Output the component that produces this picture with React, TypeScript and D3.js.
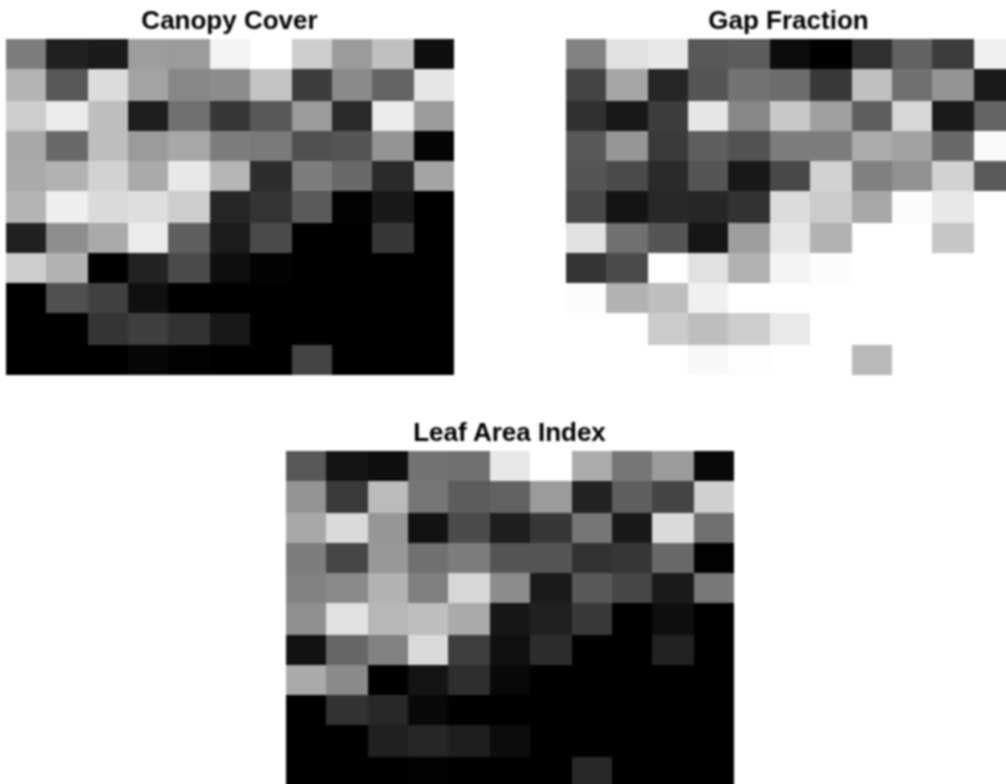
import React from "react";
import * as d3 from "d3";

const WIDTH = 1006;
const HEIGHT = 784;
const columns = d3.range(11);
const rows = d3.range(11);

const canopyCover = [
  [125, 33, 27, 157, 155, 243, 255, 205, 155, 192, 15],
  [180, 88, 220, 163, 135, 140, 195, 60, 138, 100, 230],
  [205, 235, 190, 30, 112, 55, 88, 155, 42, 235, 155],
  [168, 105, 190, 155, 168, 125, 122, 80, 85, 148, 5],
  [170, 178, 210, 170, 232, 182, 45, 125, 105, 42, 163],
  [180, 238, 218, 222, 205, 38, 52, 90, 2, 25, 0],
  [32, 142, 170, 235, 95, 28, 75, 0, 0, 55, 0],
  [205, 178, 0, 35, 75, 14, 3, 0, 0, 0, 0],
  [0, 80, 65, 16, 0, 0, 0, 0, 0, 0, 0],
  [0, 0, 52, 62, 50, 24, 0, 0, 0, 0, 0],
  [0, 0, 0, 7, 2, 0, 0, 68, 0, 0, 0],
];

const gapFraction = [
  [130, 225, 232, 88, 92, 12, 0, 48, 98, 60, 240],
  [68, 165, 38, 85, 115, 108, 57, 192, 112, 148, 27],
  [48, 25, 60, 230, 135, 200, 160, 95, 215, 27, 100],
  [88, 150, 58, 95, 82, 125, 125, 172, 162, 105, 250],
  [85, 75, 42, 85, 24, 72, 210, 128, 145, 210, 90],
  [72, 20, 40, 38, 50, 220, 203, 167, 252, 232, 255],
  [225, 112, 85, 22, 158, 230, 178, 255, 255, 198, 255],
  [52, 75, 255, 225, 178, 243, 252, 255, 255, 255, 255],
  [252, 178, 190, 240, 255, 255, 255, 255, 255, 255, 255],
  [255, 255, 203, 190, 205, 233, 255, 255, 255, 255, 255],
  [255, 255, 255, 248, 253, 255, 255, 185, 255, 255, 255],
];

const leafAreaIndex = [
  [88, 20, 14, 115, 112, 232, 255, 172, 118, 155, 8],
  [148, 58, 187, 118, 92, 98, 155, 35, 95, 68, 208],
  [168, 218, 150, 18, 75, 30, 55, 118, 25, 218, 112],
  [125, 70, 152, 112, 125, 85, 85, 50, 55, 105, 2],
  [130, 138, 178, 128, 215, 140, 27, 88, 70, 27, 120],
  [143, 225, 183, 190, 170, 23, 32, 57, 0, 14, 0],
  [18, 102, 130, 218, 62, 16, 45, 0, 0, 34, 0],
  [170, 138, 0, 20, 46, 8, 0, 0, 0, 0, 0],
  [0, 50, 40, 8, 0, 0, 0, 0, 0, 0, 0],
  [0, 0, 32, 38, 30, 13, 0, 0, 0, 0, 0],
  [0, 0, 0, 2, 0, 0, 0, 40, 0, 0, 0],
];

const grey = d3
  .scaleLinear<string>()
  .domain([0, 255])
  .range(["#000000", "#ffffff"]);

// The reference's cells land on a two-pixel grid measured from the panel's corner.
const snap = (offset: number) => Math.round(offset / 2) * 2;

type PanelProps = {
  title: string;
  values: number[][];
  left: number;
  top: number;
  titleX: number;
  titleBaseline: number;
};

function Panel({ title, values, left, top, titleX, titleBaseline }: PanelProps) {
  const x = d3.scaleBand<number>().domain(columns).range([0, 448]);
  const y = d3.scaleBand<number>().domain(rows).range([0, 336]);
  return (
    <g>
      <text
        x={titleX}
        y={titleBaseline}
        textAnchor="middle"
        fontFamily="'Liberation Sans', Arial, sans-serif"
        fontWeight="bold"
        fontSize={26}
        fill="#000000"
      >
        {title}
      </text>
      <g shapeRendering="crispEdges">
        {rows.map((r) =>
          columns.map((c) => {
            const x0 = snap(x(c)!);
            const x1 = snap(x(c)! + x.bandwidth());
            const y0 = snap(y(r)!);
            const y1 = snap(y(r)! + y.bandwidth());
            return (
              <rect
                key={`${r}-${c}`}
                x={left + x0}
                y={top + y0}
                width={x1 - x0}
                height={y1 - y0}
                fill={grey(values[r][c])}
              />
            );
          })
        )}
      </g>
    </g>
  );
}

export default function App() {
  return (
    <svg
      width={WIDTH}
      height={HEIGHT}
      viewBox={`0 0 ${WIDTH} ${HEIGHT}`}
      style={{ position: "absolute", left: 0, top: 0, background: "#fff" }}
    >
      <defs>
        <filter
          id="soften"
          x={0}
          y={0}
          width={WIDTH}
          height={HEIGHT}
          filterUnits="userSpaceOnUse"
          colorInterpolationFilters="sRGB"
        >
          <feGaussianBlur stdDeviation={0.8} />
        </filter>
      </defs>
      <g filter="url(#soften)">
        <rect x={0} y={0} width={WIDTH} height={HEIGHT} fill="#ffffff" />
        <Panel title="Canopy Cover" values={canopyCover} left={6} top={39} titleX={229.5} titleBaseline={29} />
        <Panel title="Gap Fraction" values={gapFraction} left={566} top={39} titleX={788.5} titleBaseline={29} />
        <Panel title="Leaf Area Index" values={leafAreaIndex} left={286} top={451} titleX={509.5} titleBaseline={441} />
      </g>
    </svg>
  );
}
